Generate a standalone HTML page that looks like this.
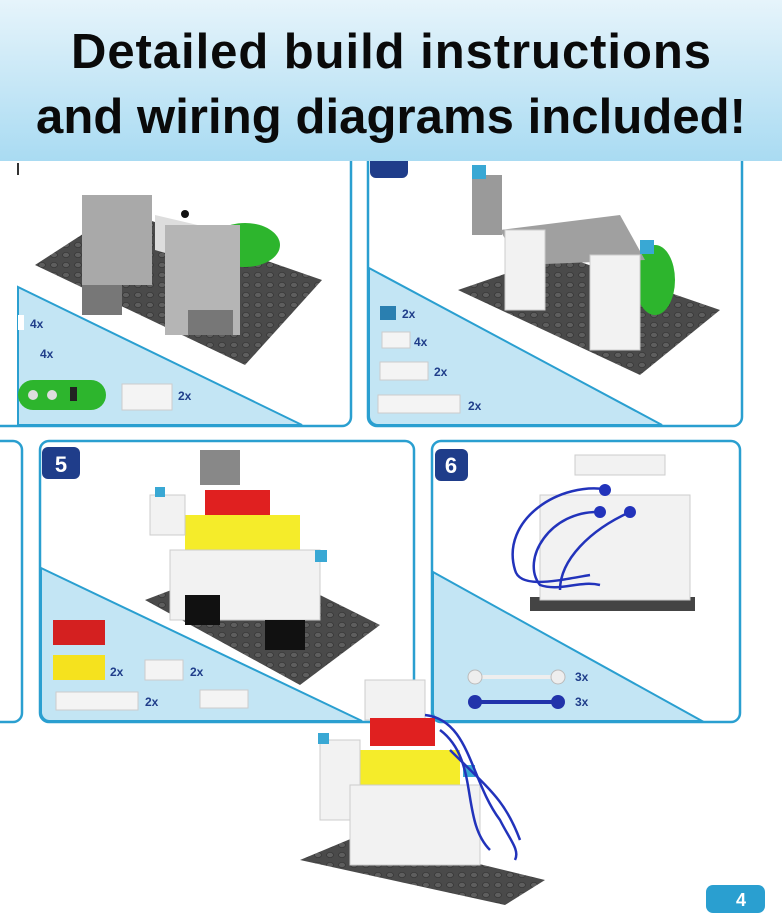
<!DOCTYPE html>
<html><head><meta charset="utf-8"><style>
html,body{margin:0;padding:0;background:#fff;}
body{width:782px;height:920px;overflow:hidden;position:relative;font-family:"Liberation Sans",sans-serif;}
</style></head><body>
<svg width="782" height="920" viewBox="0 0 782 920" xmlns="http://www.w3.org/2000/svg" style="position:absolute;left:0;top:0">
<defs>
<linearGradient id="hg" x1="0" y1="0" x2="0" y2="1"><stop offset="0" stop-color="#e6f4fb"/><stop offset="1" stop-color="#a9dbf2"/></linearGradient>
<pattern id="studs" width="12" height="10" patternUnits="userSpaceOnUse"><rect width="12" height="10" fill="#4a4a4a"/><ellipse cx="6" cy="5" rx="3.5" ry="2.6" fill="#5e5e5e" stroke="#363636" stroke-width="0.8"/></pattern>
</defs>
<g fill="none" stroke="#2a9fd0" stroke-width="2.5">
<path d="M0 150 H342 a9 9 0 0 1 9 9 V417 a9 9 0 0 1 -9 9 H0"/>
<path d="M378 150 H733 a9 9 0 0 1 9 9 V417 a9 9 0 0 1 -9 9 H377 a9 9 0 0 1 -9 -9 V150"/>
<path d="M0 441 H13 a9 9 0 0 1 9 9 V713 a9 9 0 0 1 -9 9 H0"/>
<path d="M49 441 H405 a9 9 0 0 1 9 9 V713 a9 9 0 0 1 -9 9 H49 a9 9 0 0 1 -9 -9 V450 a9 9 0 0 1 9 -9z"/>
<path d="M441 441 H731 a9 9 0 0 1 9 9 V713 a9 9 0 0 1 -9 9 H441 a9 9 0 0 1 -9 -9 V450 a9 9 0 0 1 9 -9z"/>
</g>
<g fill="#c3e5f4" stroke="#2a9fd0" stroke-width="2">
<path d="M18 287 L302 425 H18z"/>
<path d="M369 268 L662 425 H378 a9 9 0 0 1 -9 -9z"/>
<path d="M41 568 L362 721 H49 a9 9 0 0 1 -8 -8z"/>
<path d="M433 572 L702 721 H441 a9 9 0 0 1 -8 -8z"/>
</g>
<rect x="17" y="163" width="2" height="12" fill="#333"/>
<rect x="370" y="152" width="38" height="26" rx="6" fill="#1f3d8a"/>
<rect x="42" y="447" width="38" height="32" rx="6" fill="#1f3d8a"/><text x="61" y="472" font-size="22" font-weight="bold" fill="#fff" text-anchor="middle">5</text>
<rect x="435" y="449" width="33" height="32" rx="6" fill="#1f3d8a"/><text x="451" y="473" font-size="22" font-weight="bold" fill="#fff" text-anchor="middle">6</text>
<rect x="0" y="0" width="782" height="161" fill="url(#hg)"/>
<text x="391" y="68" font-size="49" font-weight="bold" text-anchor="middle" fill="#0a0a0a" textLength="640" lengthAdjust="spacing">Detailed build instructions</text>
<text x="391" y="133" font-size="49" font-weight="bold" text-anchor="middle" fill="#0a0a0a" textLength="710" lengthAdjust="spacing">and wiring diagrams included!</text>
<polygon points="35,265 120,210 322,280 245,365" fill="url(#studs)"/>
<ellipse cx="245" cy="245" rx="35" ry="22" fill="#2db52d"/>
<polygon points="155,215 240,235 240,275 155,250" fill="#ddd"/>
<rect x="82" y="195" width="70" height="90" fill="#a9a9a9"/>
<rect x="165" y="225" width="75" height="110" fill="#b5b5b5"/>
<rect x="82" y="285" width="40" height="30" fill="#777"/><rect x="188" y="310" width="45" height="25" fill="#777"/>
<circle cx="185" cy="214" r="4" fill="#111"/>
<rect x="18" y="315" width="6" height="15" fill="#fff"/>
<g font-size="12" font-weight="bold" fill="#1f3d8a"><text x="30" y="328">4x</text><text x="40" y="358">4x</text><text x="178" y="400">2x</text></g>
<rect x="18" y="380" width="88" height="30" rx="15" fill="#2db52d"/><circle cx="33" cy="395" r="5" fill="#ddd"/><circle cx="52" cy="395" r="5" fill="#ddd"/><rect x="70" y="387" width="7" height="14" fill="#222"/>
<rect x="122" y="384" width="50" height="26" fill="#f4f4f4" stroke="#ccc"/>
<polygon points="458,290 560,255 720,310 640,375" fill="url(#studs)"/>
<ellipse cx="655" cy="280" rx="20" ry="35" fill="#2db52d"/>
<rect x="472" y="175" width="30" height="60" fill="#9a9a9a"/><rect x="472" y="165" width="14" height="14" fill="#39a8d4"/>
<polygon points="500,230 620,215 645,260 520,265" fill="#a0a0a0"/>
<rect x="505" y="230" width="40" height="80" fill="#f2f2f2" stroke="#ccc"/>
<rect x="590" y="255" width="50" height="95" fill="#f2f2f2" stroke="#ccc"/>
<rect x="640" y="240" width="14" height="14" fill="#39a8d4"/>
<rect x="380" y="306" width="16" height="14" fill="#2a7fb0"/>
<rect x="382" y="332" width="28" height="16" fill="#f4f4f4" stroke="#ccc"/>
<rect x="380" y="362" width="48" height="18" fill="#f4f4f4" stroke="#ccc"/>
<rect x="378" y="395" width="82" height="18" fill="#f4f4f4" stroke="#ccc"/>
<g font-size="12" font-weight="bold" fill="#1f3d8a"><text x="402" y="318">2x</text><text x="414" y="346">4x</text><text x="434" y="376">2x</text><text x="468" y="410">2x</text></g>
<polygon points="145,600 250,560 380,625 300,685" fill="url(#studs)"/>
<rect x="200" y="450" width="40" height="35" fill="#888"/>
<rect x="205" y="490" width="65" height="25" fill="#e02020"/>
<rect x="185" y="515" width="115" height="45" fill="#f5ec2a"/>
<rect x="150" y="495" width="35" height="40" fill="#f2f2f2" stroke="#ccc"/>
<rect x="170" y="550" width="150" height="70" fill="#f2f2f2" stroke="#ccc"/>
<rect x="185" y="595" width="35" height="30" fill="#111"/><rect x="265" y="620" width="40" height="30" fill="#111"/>
<rect x="155" y="487" width="10" height="10" fill="#39a8d4"/><rect x="315" y="550" width="12" height="12" fill="#39a8d4"/>
<rect x="53" y="620" width="52" height="25" fill="#d42020"/>
<rect x="53" y="655" width="52" height="25" fill="#f5e21e"/>
<rect x="145" y="660" width="38" height="20" fill="#f4f4f4" stroke="#ccc"/>
<rect x="56" y="692" width="82" height="18" fill="#f4f4f4" stroke="#ccc"/>
<rect x="200" y="690" width="48" height="18" fill="#f4f4f4" stroke="#ccc"/>
<g font-size="12" font-weight="bold" fill="#1f3d8a"><text x="110" y="676">2x</text><text x="190" y="676">2x</text><text x="145" y="706">2x</text></g>
<rect x="530" y="597" width="165" height="14" fill="#444"/>
<rect x="540" y="495" width="150" height="105" fill="#f2f2f2" stroke="#ccc"/>
<rect x="575" y="455" width="90" height="20" fill="#f2f2f2" stroke="#ccc"/>
<g fill="none" stroke="#2233bb" stroke-width="2.5"><path d="M610 490 C560 480 500 520 515 570 C520 590 560 580 590 575"/><path d="M600 512 C550 510 520 560 540 585 C560 592 580 580 600 585"/><path d="M630 512 C590 530 560 560 560 590"/></g>
<circle cx="605" cy="490" r="6" fill="#2233bb"/><circle cx="630" cy="512" r="6" fill="#2233bb"/><circle cx="600" cy="512" r="6" fill="#2233bb"/>
<line x1="475" y1="677" x2="558" y2="677" stroke="#eee" stroke-width="4"/><circle cx="475" cy="677" r="7" fill="#eee" stroke="#bbb"/><circle cx="558" cy="677" r="7" fill="#eee" stroke="#bbb"/>
<line x1="475" y1="702" x2="558" y2="702" stroke="#2233aa" stroke-width="4"/><circle cx="475" cy="702" r="7" fill="#2233aa"/><circle cx="558" cy="702" r="7" fill="#2233aa"/>
<g font-size="12" font-weight="bold" fill="#1f3d8a"><text x="575" y="681">3x</text><text x="575" y="706">3x</text></g>
<polygon points="300,860 360,835 545,880 505,905" fill="url(#studs)"/>
<rect x="365" y="680" width="60" height="40" fill="#f2f2f2" stroke="#ccc"/>
<rect x="370" y="718" width="65" height="28" fill="#e02020"/>
<rect x="340" y="750" width="120" height="35" fill="#f5ec2a"/>
<rect x="320" y="740" width="40" height="80" fill="#f2f2f2" stroke="#ccc"/>
<rect x="350" y="785" width="130" height="80" fill="#f2f2f2" stroke="#ccc"/>
<rect x="318" y="733" width="11" height="11" fill="#39a8d4"/><rect x="463" y="765" width="12" height="12" fill="#39a8d4"/>
<g fill="none" stroke="#2233bb" stroke-width="2.5"><path d="M425 715 C470 720 470 780 500 820 C510 840 520 850 515 860"/><path d="M440 730 C480 760 460 820 490 850"/><path d="M450 750 C490 790 505 800 520 840"/></g>
<rect x="706" y="885" width="59" height="28" rx="7" fill="#2a9fd0"/>
<text x="741" y="906" font-size="18" font-weight="bold" fill="#fff" text-anchor="middle">4</text>
</svg>
</body></html>
